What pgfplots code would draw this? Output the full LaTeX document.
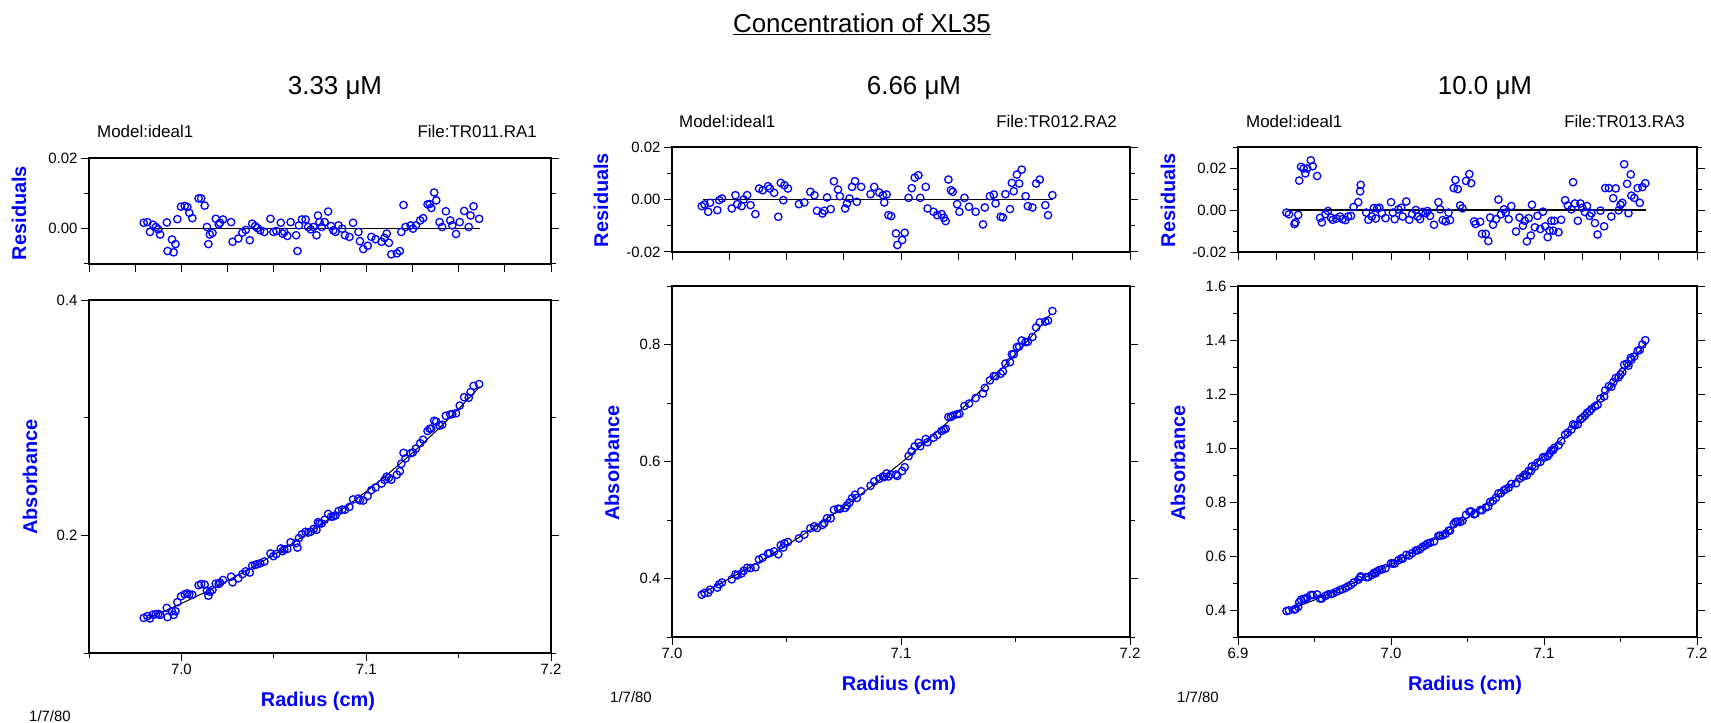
\documentclass[border=0pt]{standalone}
\usepackage{fontspec}
\setmainfont{Liberation Sans}
\usepackage{pgfplots}
\usepackage{pgfplotstable}
\pgfplotsset{compat=1.18}

% radius (cm), absorbance, residual
\pgfplotstableread{
x a r
6.9796 0.1298 0.00167
6.9816 0.1313 0.00186
6.9830 0.1294 -0.00093
6.9846 0.1326 0.00112
6.9862 0.1330 0.00047
6.9875 0.1332 -0.00019
6.9885 0.1324 -0.00167
6.9921 0.1383 0.00177
6.9925 0.1305 -0.00633
6.9949 0.1354 -0.00307
6.9958 0.1324 -0.00670
6.9968 0.1355 -0.00437
6.9978 0.1432 0.00270
6.9998 0.1482 0.00623
7.0018 0.1499 0.00642
7.0032 0.1506 0.00614
7.0043 0.1498 0.00447
7.0059 0.1495 0.00298
7.0093 0.1576 0.00856
7.0107 0.1586 0.00856
7.0126 0.1581 0.00651
7.0138 0.1530 0.00047
7.0146 0.1487 -0.00437
7.0154 0.1521 -0.00167
7.0168 0.1536 -0.00121
7.0186 0.1590 0.00279
7.0202 0.1587 0.00121
7.0209 0.1598 0.00167
7.0225 0.1620 0.00260
7.0269 0.1649 0.00186
7.0277 0.1600 -0.00372
7.0308 0.1635 -0.00279
7.0330 0.1671 -0.00112
7.0348 0.1694 -0.00037
7.0370 0.1684 -0.00326
7.0383 0.1742 0.00140
7.0399 0.1749 0.00074
7.0411 0.1755 0.00019
7.0427 0.1763 -0.00047
7.0449 0.1778 -0.00093
7.0482 0.1846 0.00279
7.0498 0.1823 -0.00093
7.0514 0.1841 -0.00065
7.0538 0.1888 0.00167
7.0547 0.1866 -0.00140
7.0557 0.1880 -0.00093
7.0573 0.1884 -0.00205
7.0591 0.1941 0.00186
7.0621 0.1934 -0.00186
7.0628 0.1896 -0.00633
7.0636 0.1977 0.00093
7.0652 0.2010 0.00260
7.0672 0.2030 0.00260
7.0686 0.2023 0.00047
7.0700 0.2031 -0.00019
7.0715 0.2054 0.00047
7.0731 0.2047 -0.00186
7.0739 0.2112 0.00372
7.0747 0.2102 0.00186
7.0759 0.2101 0.00047
7.0775 0.2132 0.00186
7.0794 0.2182 0.00484
7.0810 0.2159 0.00074
7.0822 0.2160 -0.00047
7.0834 0.2169 -0.00093
7.0850 0.2206 0.00093
7.0870 0.2219 0.00000
7.0885 0.2218 -0.00186
7.0909 0.2241 -0.00233
7.0929 0.2305 0.00167
7.0958 0.2313 -0.00093
7.0966 0.2297 -0.00353
7.0984 0.2296 -0.00577
7.1008 0.2334 -0.00484
7.1028 0.2384 -0.00233
7.1051 0.2407 -0.00298
7.1083 0.2440 -0.00372
7.1099 0.2471 -0.00260
7.1111 0.2499 -0.00140
7.1123 0.2489 -0.00400
7.1136 0.2473 -0.00726
7.1166 0.2516 -0.00698
7.1182 0.2544 -0.00633
7.1190 0.2608 -0.00093
7.1202 0.2701 0.00670
7.1213 0.2654 0.00047
7.1241 0.2698 0.00093
7.1253 0.2705 0.00000
7.1269 0.2737 0.00093
7.1292 0.2783 0.00233
7.1308 0.2813 0.00298
7.1332 0.2887 0.00688
7.1344 0.2906 0.00698
7.1352 0.2906 0.00586
7.1368 0.2974 0.01023
7.1379 0.2967 0.00800
7.1397 0.2933 0.00186
7.1411 0.2940 0.00047
7.1431 0.3016 0.00493
7.1455 0.3027 0.00233
7.1466 0.3031 0.00093
7.1486 0.3037 -0.00149
7.1506 0.3103 0.00186
7.1530 0.3174 0.00502
7.1555 0.3169 0.00047
7.1565 0.3218 0.00372
7.1581 0.3270 0.00633
7.1611 0.3285 0.00279
}\dataA

\pgfplotstableread{
x f
6.9816 0.1294
6.99 0.13504
7.00 0.14209
7.01 0.14951
7.02 0.15734
7.03 0.16558
7.04 0.17428
7.05 0.18344
7.06 0.19310
7.07 0.20327
7.08 0.21401
7.09 0.22532
7.10 0.23725
7.11 0.24983
7.12 0.26309
7.13 0.27709
7.14 0.29184
7.15 0.30741
7.16 0.32383
7.1615 0.3263
}\fitA

\pgfplotstableread{
x a r
7.0130 0.3723 -0.00253
7.0142 0.3753 -0.00190
7.0158 0.3758 -0.00468
7.0166 0.3808 -0.00127
7.0198 0.3845 -0.00405
7.0206 0.3900 -0.00025
7.0218 0.3932 0.00038
7.0261 0.3986 -0.00342
7.0277 0.4070 0.00165
7.0285 0.4053 -0.00177
7.0304 0.4087 -0.00253
7.0313 0.4132 0.00000
7.0328 0.4183 0.00165
7.0343 0.4178 -0.00215
7.0364 0.4192 -0.00557
7.0380 0.4325 0.00418
7.0396 0.4355 0.00354
7.0419 0.4424 0.00506
7.0427 0.4435 0.00418
7.0446 0.4463 0.00253
7.0464 0.4415 -0.00658
7.0475 0.4570 0.00633
7.0486 0.4531 -0.00025
7.0491 0.4600 0.00544
7.0506 0.4624 0.00418
7.0554 0.4685 -0.00177
7.0578 0.4752 -0.00114
7.0604 0.4858 0.00291
7.0622 0.4893 0.00165
7.0633 0.4863 -0.00430
7.0657 0.4917 -0.00532
7.0665 0.4948 -0.00430
7.0677 0.5031 0.00076
7.0693 0.5029 -0.00367
7.0707 0.5174 0.00696
7.0725 0.5193 0.00380
7.0733 0.5190 0.00127
7.0756 0.5207 -0.00342
7.0764 0.5249 -0.00152
7.0775 0.5299 0.00038
7.0786 0.5374 0.00481
7.0799 0.5432 0.00696
7.0807 0.5377 -0.00089
7.0826 0.5491 0.00481
7.0867 0.5585 0.00203
7.0883 0.5660 0.00481
7.0905 0.5705 0.00266
7.0921 0.5745 0.00165
7.0927 0.5736 -0.00114
7.0937 0.5797 0.00190
7.0945 0.5744 -0.00595
7.0957 0.5778 -0.00633
7.0978 0.5778 -0.01291
7.0984 0.5753 -0.01734
7.1005 0.5838 -0.01544
7.1016 0.5903 -0.01266
7.1033 0.6092 0.00063
7.1047 0.6175 0.00430
7.1060 0.6259 0.00835
7.1076 0.6321 0.00924
7.1084 0.6261 0.00063
7.1108 0.6384 0.00481
7.1116 0.6330 -0.00342
7.1142 0.6408 -0.00468
7.1158 0.6452 -0.00595
7.1177 0.6522 -0.00557
7.1187 0.6543 -0.00696
7.1195 0.6559 -0.00823
7.1207 0.6761 0.00760
7.1218 0.6761 0.00354
7.1226 0.6784 0.00291
7.1245 0.6808 -0.00177
7.1255 0.6816 -0.00468
7.1277 0.6950 0.00063
7.1297 0.6990 -0.00278
7.1326 0.7084 -0.00468
7.1358 0.7162 -0.00949
7.1366 0.7258 -0.00304
7.1388 0.7387 0.00127
7.1405 0.7461 0.00190
7.1413 0.7460 -0.00152
7.1435 0.7500 -0.00658
7.1445 0.7539 -0.00684
7.1456 0.7674 0.00203
7.1476 0.7699 -0.00367
7.1484 0.7833 0.00633
7.1492 0.7834 0.00316
7.1506 0.7957 0.00949
7.1516 0.7966 0.00608
7.1527 0.8068 0.01139
7.1544 0.8041 0.00127
7.1554 0.8047 -0.00253
7.1574 0.8129 -0.00304
7.1590 0.8291 0.00608
7.1606 0.8378 0.00760
7.1630 0.8391 -0.00215
7.1642 0.8409 -0.00595
7.1661 0.8573 0.00165
}\dataB

\pgfplotstableread{
x f
7.0135 0.3757
7.02 0.38896
7.03 0.41030
7.04 0.43285
7.05 0.45667
7.06 0.48183
7.07 0.50842
7.08 0.53653
7.09 0.56623
7.10 0.59762
7.11 0.63079
7.12 0.66586
7.13 0.70292
7.14 0.74211
7.15 0.78355
7.16 0.82737
7.1653 0.85193
}\fitB

\pgfplotstableread{
x a r
6.9317 0.3961 -0.00125
6.9333 0.3987 -0.00202
6.9369 0.4017 -0.00669
6.9376 0.4040 -0.00591
6.9393 0.4112 -0.00233
6.9400 0.4290 0.01401
6.9412 0.4382 0.02054
6.9429 0.4412 0.01977
6.9440 0.4413 0.01743
6.9452 0.4464 0.01977
6.9476 0.4556 0.02366
6.9488 0.4555 0.02086
6.9517 0.4575 0.01619
6.9536 0.4421 -0.00374
6.9548 0.4428 -0.00591
6.9571 0.4521 -0.00202
6.9588 0.4576 -0.00047
6.9607 0.4591 -0.00358
6.9619 0.4610 -0.00467
6.9643 0.4676 -0.00405
6.9667 0.4745 -0.00311
6.9683 0.4773 -0.00436
6.9702 0.4816 -0.00482
6.9719 0.4878 -0.00311
6.9738 0.4931 -0.00280
6.9755 0.5017 0.00140
6.9786 0.5122 0.00374
6.9798 0.5205 0.00887
6.9802 0.5247 0.01198
6.9838 0.5215 -0.00125
6.9852 0.5219 -0.00467
6.9874 0.5296 -0.00311
6.9888 0.5375 0.00093
6.9900 0.5359 -0.00405
6.9910 0.5436 0.00078
6.9924 0.5481 0.00109
6.9940 0.5501 -0.00156
6.9964 0.5548 -0.00389
7.0000 0.5730 0.00374
7.0012 0.5717 -0.00125
7.0024 0.5723 -0.00436
7.0048 0.5844 0.00031
7.0067 0.5911 0.00109
7.0076 0.5897 -0.00311
7.0100 0.6043 0.00405
7.0119 0.6018 -0.00467
7.0138 0.6106 -0.00202
7.0162 0.6205 0.00000
7.0174 0.6213 -0.00311
7.0190 0.6253 -0.00436
7.0207 0.6344 -0.00093
7.0226 0.6403 -0.00156
7.0238 0.6456 -0.00047
7.0255 0.6491 -0.00280
7.0281 0.6539 -0.00700
7.0310 0.6748 0.00374
7.0321 0.6754 0.00031
7.0338 0.6765 -0.00482
7.0357 0.6828 -0.00545
7.0376 0.6939 -0.00125
7.0386 0.6940 -0.00482
7.0410 0.7182 0.01043
7.0421 0.7263 0.01432
7.0436 0.7277 0.00996
7.0452 0.7261 0.00218
7.0467 0.7305 0.00078
7.0490 0.7524 0.01385
7.0512 0.7644 0.01712
7.0524 0.7649 0.01276
7.0543 0.7544 -0.00545
7.0552 0.7569 -0.00669
7.0583 0.7706 -0.00560
7.0595 0.7697 -0.01136
7.0619 0.7799 -0.01136
7.0636 0.7837 -0.01479
7.0648 0.8001 -0.00358
7.0667 0.8048 -0.00700
7.0686 0.8156 -0.00436
7.0702 0.8319 0.00498
7.0719 0.8326 -0.00202
7.0738 0.8436 0.00031
7.0750 0.8475 -0.00125
7.0769 0.8530 -0.00436
7.0786 0.8669 0.00187
7.0817 0.8693 -0.01027
7.0840 0.8870 -0.00358
7.0862 0.8937 -0.00747
7.0874 0.9018 -0.00514
7.0888 0.8987 -0.01494
7.0900 0.9155 -0.00389
7.0914 0.9143 -0.01214
7.0921 0.9325 0.00249
7.0940 0.9314 -0.00825
7.0957 0.9454 -0.00280
7.0976 0.9488 -0.00903
7.0993 0.9657 -0.00078
7.1007 0.9660 -0.00778
7.1024 0.9699 -0.01292
7.1036 0.9795 -0.00981
7.1048 0.9906 -0.00514
7.1060 0.9923 -0.00981
7.1067 1.0007 -0.00514
7.1095 1.0103 -0.01058
7.1112 1.0257 -0.00467
7.1138 1.0497 0.00467
7.1155 1.0568 0.00218
7.1179 1.0685 0.00031
7.1190 1.0877 0.01323
7.1202 1.0844 0.00311
7.1221 1.0875 -0.00514
7.1238 1.1059 0.00311
7.1250 1.1111 0.00109
7.1267 1.1192 -0.00093
7.1281 1.1304 0.00187
7.1298 1.1359 -0.00280
7.1310 1.1446 -0.00156
7.1333 1.1545 -0.00623
7.1350 1.1598 -0.01167
7.1369 1.1832 -0.00031
7.1393 1.1909 -0.00778
7.1400 1.2135 0.01043
7.1424 1.2295 0.01043
7.1440 1.2267 -0.00311
7.1452 1.2434 0.00560
7.1469 1.2594 0.01027
7.1488 1.2617 -0.00016
7.1500 1.2723 0.00249
7.1512 1.2817 0.00342
7.1524 1.3086 0.02179
7.1543 1.3126 0.01245
7.1552 1.3050 -0.00156
7.1567 1.3341 0.01696
7.1571 1.3268 0.00685
7.1590 1.3391 0.00576
7.1612 1.3598 0.01043
7.1626 1.3632 0.00342
7.1643 1.3834 0.01090
7.1662 1.3994 0.01276
}\dataC

\pgfplotstableread{
x f
6.933 0.4000
6.94 0.41496
6.95 0.43732
6.96 0.46094
6.97 0.48586
6.98 0.51216
6.99 0.53993
7.00 0.56926
7.01 0.60021
7.02 0.63291
7.03 0.66743
7.04 0.70388
7.05 0.74239
7.06 0.78306
7.07 0.82602
7.08 0.87141
7.09 0.91936
7.10 0.97002
7.11 1.02354
7.12 1.08011
7.13 1.13989
7.14 1.20306
7.15 1.26982
7.16 1.34040
7.1662 1.38666
}\fitC

\newcommand\tickfont{\fontsize{15}{18}\selectfont}
\newcommand\labfont{\fontsize{20}{24}\selectfont\bfseries}
\newcommand\headfont{\fontsize{26}{30}\selectfont}
\newcommand\notefont{\fontsize{17}{20}\selectfont}

\pgfplotsset{
  panel/.style={
    scale only axis, anchor=north west, clip=false,
    scaled ticks=false,
    axis line style={line width=1.3bp},
    every tick/.style={black, line width=1bp},
    major tick length=8bp, minor tick length=5bp,
    tick align=outside, xtick pos=bottom, ytick pos=both,
    ticklabel style={font=\tickfont},
  },
  pts/.style={only marks, mark=o, color=blue, mark size=3.7bp,
    mark options={line width=1.3bp}},
  fitline/.style={black, line width=1bp, no marks},
  zeroline/.style={black, line width=1.4bp, no marks},
}

\begin{document}
\begin{tikzpicture}
\path[use as bounding box] (0bp,0bp) rectangle (1711bp,-723bp);

% headings and notes
\node[font=\headfont] at (862bp,-24bp) {\underline{Concentration of XL35}};
\node[font=\headfont] at (335bp,-88bp) {3.33 μM};
\node[font=\headfont] at (914bp,-88bp) {6.66 μM};
\node[font=\headfont] at (1485bp,-88bp) {10.0 μM};

\node[font=\notefont, anchor=west, inner sep=0pt] at (97bp,-131bp) {Model:ideal1};
\node[font=\notefont, anchor=east, inner sep=0pt] at (537bp,-131bp) {File:TR011.RA1};
\node[font=\notefont, anchor=west, inner sep=0pt] at (679bp,-121bp) {Model:ideal1};
\node[font=\notefont, anchor=east, inner sep=0pt] at (1117bp,-121bp) {File:TR012.RA2};
\node[font=\notefont, anchor=west, inner sep=0pt] at (1246bp,-121bp) {Model:ideal1};
\node[font=\notefont, anchor=east, inner sep=0pt] at (1685bp,-121bp) {File:TR013.RA3};

\node[font=\labfont, text=blue, rotate=90] at (19bp,-213bp) {Residuals};
\node[font=\labfont, text=blue, rotate=90] at (601bp,-200bp) {Residuals};
\node[font=\labfont, text=blue, rotate=90] at (1168bp,-200bp) {Residuals};
\node[font=\labfont, text=blue, rotate=90] at (30bp,-477bp) {Absorbance};
\node[font=\labfont, text=blue, rotate=90] at (612bp,-463bp) {Absorbance};
\node[font=\labfont, text=blue, rotate=90] at (1178bp,-463bp) {Absorbance};
\node[font=\labfont, text=blue] at (318bp,-701bp) {Radius (cm)};
\node[font=\labfont, text=blue] at (899bp,-685bp) {Radius (cm)};
\node[font=\labfont, text=blue] at (1465bp,-685bp) {Radius (cm)};
\node[font=\tickfont] at (50bp,-716bp) {1/7/80};
\node[font=\tickfont] at (631bp,-697bp) {1/7/80};
\node[font=\tickfont] at (1198bp,-697bp) {1/7/80};

% ---- 3.33 uM ----
\begin{axis}[panel, at={(89bp,-158bp)}, width=462bp, height=106bp,
  xmin=6.95, xmax=7.2, ymin=-0.01, ymax=0.02,
  xtick={6.95,6.975,7,7.025,7.05,7.075,7.1,7.125,7.15,7.175,7.2}, xticklabels={},
  ytick={0,0.02}, yticklabels={0.00,0.02}, minor ytick={-0.01,0.01}]
  \addplot[zeroline] coordinates {(6.9816,0) (7.1615,0)};
  \addplot[pts] table[x=x, y=r] {\dataA};
\end{axis}
\begin{axis}[panel, at={(89bp,-300bp)}, width=462bp, height=353bp,
  xmin=6.95, xmax=7.2, ymin=0.1, ymax=0.4,
  xtick={7,7.1,7.2}, xticklabels={7.0,7.1,7.2}, minor xtick={6.95,7.05,7.15},
  ytick={0.2,0.4}, yticklabels={0.2,0.4}, minor ytick={0.1,0.3}]
  \addplot[pts] table[x=x, y=a] {\dataA};
  \addplot[fitline] table[x=x, y=f] {\fitA};
\end{axis}

% ---- 6.66 uM ----
\begin{axis}[panel, at={(672bp,-147bp)}, width=458bp, height=105bp,
  xmin=7.0, xmax=7.2, ymin=-0.02, ymax=0.02,
  xtick={7,7.025,7.05,7.075,7.1,7.125,7.15,7.175,7.2}, xticklabels={},
  ytick={-0.02,0,0.02}, yticklabels={-0.02,0.00,0.02}, minor ytick={-0.01,0.01}]
  \addplot[zeroline] coordinates {(7.0135,0) (7.1665,0)};
  \addplot[pts] table[x=x, y=r] {\dataB};
\end{axis}
\begin{axis}[panel, at={(672bp,-286bp)}, width=458bp, height=351bp,
  xmin=7.0, xmax=7.2, ymin=0.3, ymax=0.9,
  xtick={7,7.1,7.2}, xticklabels={7.0,7.1,7.2}, minor xtick={7.05,7.15},
  ytick={0.4,0.6,0.8}, yticklabels={0.4,0.6,0.8}, minor ytick={0.3,0.5,0.7,0.9}]
  \addplot[pts] table[x=x, y=a] {\dataB};
  \addplot[fitline] table[x=x, y=f] {\fitB};
\end{axis}

% ---- 10.0 uM ----
\begin{axis}[panel, at={(1238bp,-147bp)}, width=459bp, height=105bp,
  xmin=6.9, xmax=7.2, ymin=-0.02, ymax=0.03,
  xtick={6.9,6.925,6.95,6.975,7,7.025,7.05,7.075,7.1,7.125,7.15,7.175,7.2}, xticklabels={},
  ytick={-0.02,0,0.02}, yticklabels={-0.02,0.00,0.02}, minor ytick={-0.01,0.01,0.03}]
  \addplot[zeroline] coordinates {(6.933,0) (7.1665,0)};
  \addplot[pts] table[x=x, y=r] {\dataC};
\end{axis}
\begin{axis}[panel, at={(1238bp,-286bp)}, width=459bp, height=351bp,
  xmin=6.9, xmax=7.2, ymin=0.3, ymax=1.6,
  xtick={6.9,7,7.1,7.2}, xticklabels={6.9,7.0,7.1,7.2}, minor xtick={6.95,7.05,7.15},
  ytick={0.4,0.6,0.8,1.0,1.2,1.4,1.6}, yticklabels={0.4,0.6,0.8,1.0,1.2,1.4,1.6},
  minor ytick={0.3,0.5,0.7,0.9,1.1,1.3,1.5}]
  \addplot[pts] table[x=x, y=a] {\dataC};
  \addplot[fitline] table[x=x, y=f] {\fitC};
\end{axis}
\end{tikzpicture}
\end{document}
